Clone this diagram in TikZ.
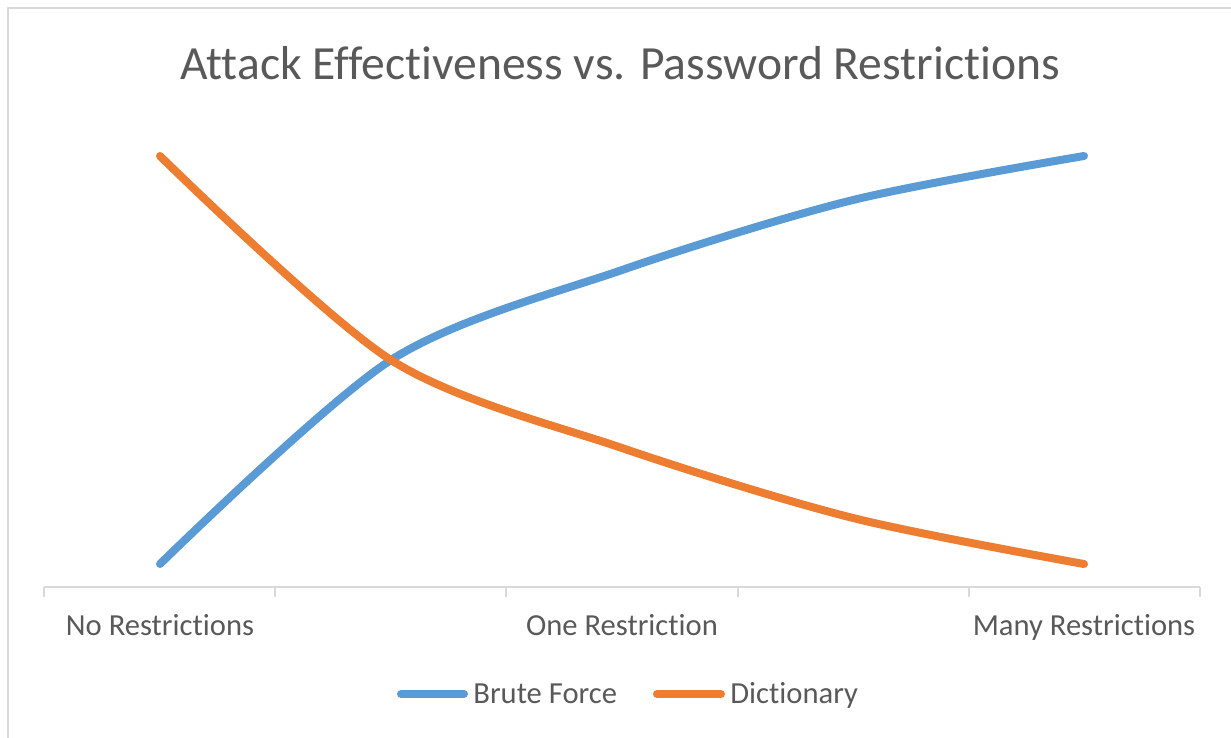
\documentclass[tikz,border=0pt]{standalone}
\usepackage{fontspec}
\setmainfont{Carlito}[Ligatures=NoCommon]
\usepackage{xcolor}
\usepackage{tikz}
\usetikzlibrary{positioning}

\definecolor{bruteblue}{HTML}{5B9BD5}
\definecolor{dictorange}{HTML}{ED7D31}
\definecolor{chartgray}{HTML}{595959}
\definecolor{gridgray}{HTML}{D9D9D9}

\begin{document}
\begin{tikzpicture}[
            x=0.5pt, y=-0.5pt,
            title/.style={
                text=chartgray,
                font=\fontsize{23.8}{26}\selectfont,
                anchor=base,
                inner sep=0pt
            },
            catlabel/.style={
                text=chartgray,
                font=\fontsize{15.3}{18}\selectfont,
                anchor=base,
                inner sep=0pt
            },
            legtext/.style={
                catlabel,
                anchor=base west
            },
            series/.style={
                line width=4pt,
                line cap=round,
                line join=round
            },
            axisline/.style={
                draw=gridgray,
                line width=1pt
            }
        ]
            \useasboundingbox (0,0) rectangle (1231,738);
            % --- MARCO ---
            \draw [gridgray, line width=1pt] (8,740) -- (8,8) -- (1233,8);

            % --- TITULO ---
            \node [title] (title) at (620,80) {Attack Effectiveness vs. Password Restrictions};

            % --- EJE ---
            \draw [axisline] (44,587) -- (1200,587);
            \foreach \tx in {44,275,506,738,969,1200}
                \draw [axisline] (\tx,587) -- (\tx,597);
            \node [catlabel] (cat_none) at (160,635) {No Restrictions};
            \node [catlabel] (cat_one) at (622,635) {One Restriction};
            \node [catlabel] (cat_many) at (1084,635) {Many Restrictions};

            % --- SERIES ---
            \coordinate (b1) at (160,564);
            \coordinate (b2) at (391,360);
            \coordinate (b3) at (622,270);
            \coordinate (b4) at (853,200);
            \coordinate (b5) at (1084,156);
            \coordinate (d1) at (160,156);
            \coordinate (d2) at (391,360);
            \coordinate (d3) at (622,448);
            \coordinate (d4) at (853,518);
            \coordinate (d5) at (1084,564);
            \draw [series, bruteblue] plot[smooth] coordinates {(b1) (b2) (b3) (b4) (b5)};
            \draw [series, dictorange] plot[smooth] coordinates {(d1) (d2) (d3) (d4) (d5)};

            % --- LEYENDA ---
            \coordinate (leg_b) at (401,694);
            \coordinate (leg_d) at (657,694);
            \draw [series, bruteblue] (leg_b) -- ++(63,0) coordinate (leg_b_end);
            \node [legtext] (leg_brute) at (473,703) {Brute Force};
            \draw [series, dictorange] (leg_d) -- ++(64,0) coordinate (leg_d_end);
            \node [legtext] (leg_dict) at (730,703) {Dictionary};
        \end{tikzpicture}
\end{document}
